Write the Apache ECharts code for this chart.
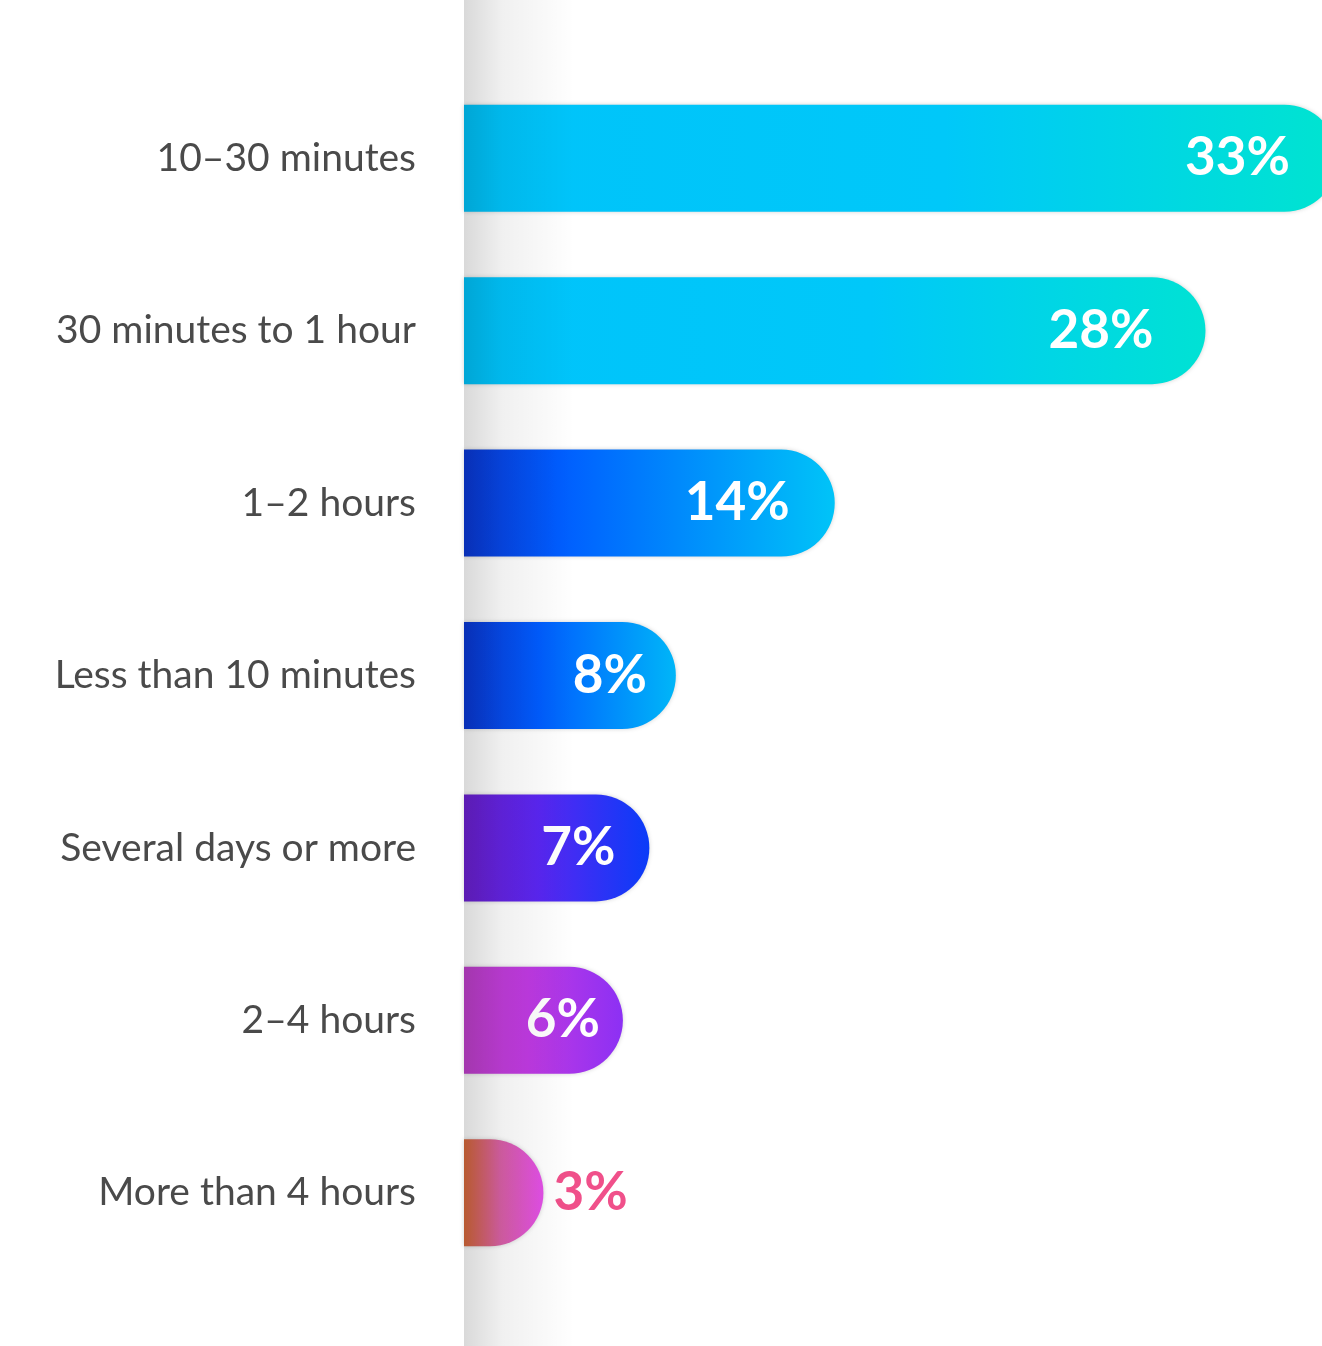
<!DOCTYPE html>
<html>
<head>
<meta charset="utf-8">
<script src="https://cdn.jsdelivr.net/npm/echarts@6/dist/echarts.min.js"></script>
<style>
  html, body { margin: 0; padding: 0; background: #ffffff; }
  #chart { width: 1322px; height: 1346px; }
</style>
</head>
<body>
<div id="chart"></div>
<script>
// Time spent, share of respondents (%)
const categories = [
  '10–30 minutes',
  '30 minutes to 1 hour',
  '1–2 hours',
  'Less than 10 minutes',
  'Several days or more',
  '2–4 hours',
  'More than 4 hours'
];
const values = [33, 28, 14, 8, 7, 6, 3];

// Horizontal gradient per bar (left → right)
const barGradients = [
  [['0', '#00c3fa'], ['0.55', '#00c8f9'], ['1', '#00e4d0']],
  [['0', '#00c3fb'], ['0.55', '#00c8f9'], ['1', '#00e2d4']],
  [['0', '#0a38d6'], ['0.25', '#005cff'], ['1', '#00c4f8']],
  [['0', '#0a38d6'], ['0.35', '#005cff'], ['1', '#00b6f8']],
  [['0', '#6c20d2'], ['0.4', '#5a26f2'], ['1', '#0a3cf8']],
  [['0', '#c040cc'], ['0.4', '#c03ae2'], ['1', '#8c30f4']],
  [['0', '#d86a38'], ['0.45', '#d860a4'], ['1', '#e24ee8']]
];
// How far each value label sits in from the bar's rounded end
const labelInset = [48, 52, 45, 29, 34, 23, 10];

const chart = echarts.init(document.getElementById('chart'), null, { renderer: 'canvas' });

const seriesData = values.map((v, i) => {
  const outside = v < 5;
  return {
    value: v,
    itemStyle: {
      color: new echarts.graphic.LinearGradient(0, 0, 1, 0,
        barGradients[i].map(s => ({ offset: parseFloat(s[0]), color: s[1] })))
    },
    label: {
      show: true,
      position: outside ? 'right' : 'insideRight',
      distance: labelInset[i],
      color: outside ? '#f0508a' : '#ffffff'
    }
  };
});

chart.setOption({
  backgroundColor: '#ffffff',
  animation: false,
  grid: { left: 464, right: 0, top: 72, bottom: 67, containLabel: false },
  xAxis: {
    type: 'value',
    min: 0,
    max: 32.4,
    show: false
  },
  yAxis: {
    type: 'category',
    data: categories,
    inverse: true,
    axisLine: { show: false },
    axisTick: { show: false },
    splitLine: { show: false },
    axisLabel: {
      margin: 48,
      color: '#4a4a4a',
      fontSize: 39,
      fontFamily: 'Lato, "Open Sans", sans-serif',
      fontWeight: 'normal'
    }
  },
  series: [{
    type: 'bar',
    data: seriesData,
    barWidth: 107,
    clip: false,
    itemStyle: {
      borderRadius: [0, 53.5, 53.5, 0],
      shadowColor: 'rgba(0,0,0,0.18)',
      shadowBlur: 4
    },
    label: {
      formatter: '{c}%',
      fontSize: 53,
      fontWeight: 'bold',
      fontFamily: 'Lato, "Open Sans", sans-serif'
    }
  }],
  graphic: [{
    type: 'rect',
    z: 100,
    silent: true,
    shape: { x: 464, y: 0, width: 110, height: 1346 },
    style: {
      fill: new echarts.graphic.LinearGradient(0, 0, 1, 0, [
        { offset: 0, color: 'rgba(0,0,0,0.15)' },
        { offset: 0.35, color: 'rgba(0,0,0,0.06)' },
        { offset: 1, color: 'rgba(0,0,0,0)' }
      ])
    }
  }]
});
</script>
</body>
</html>
